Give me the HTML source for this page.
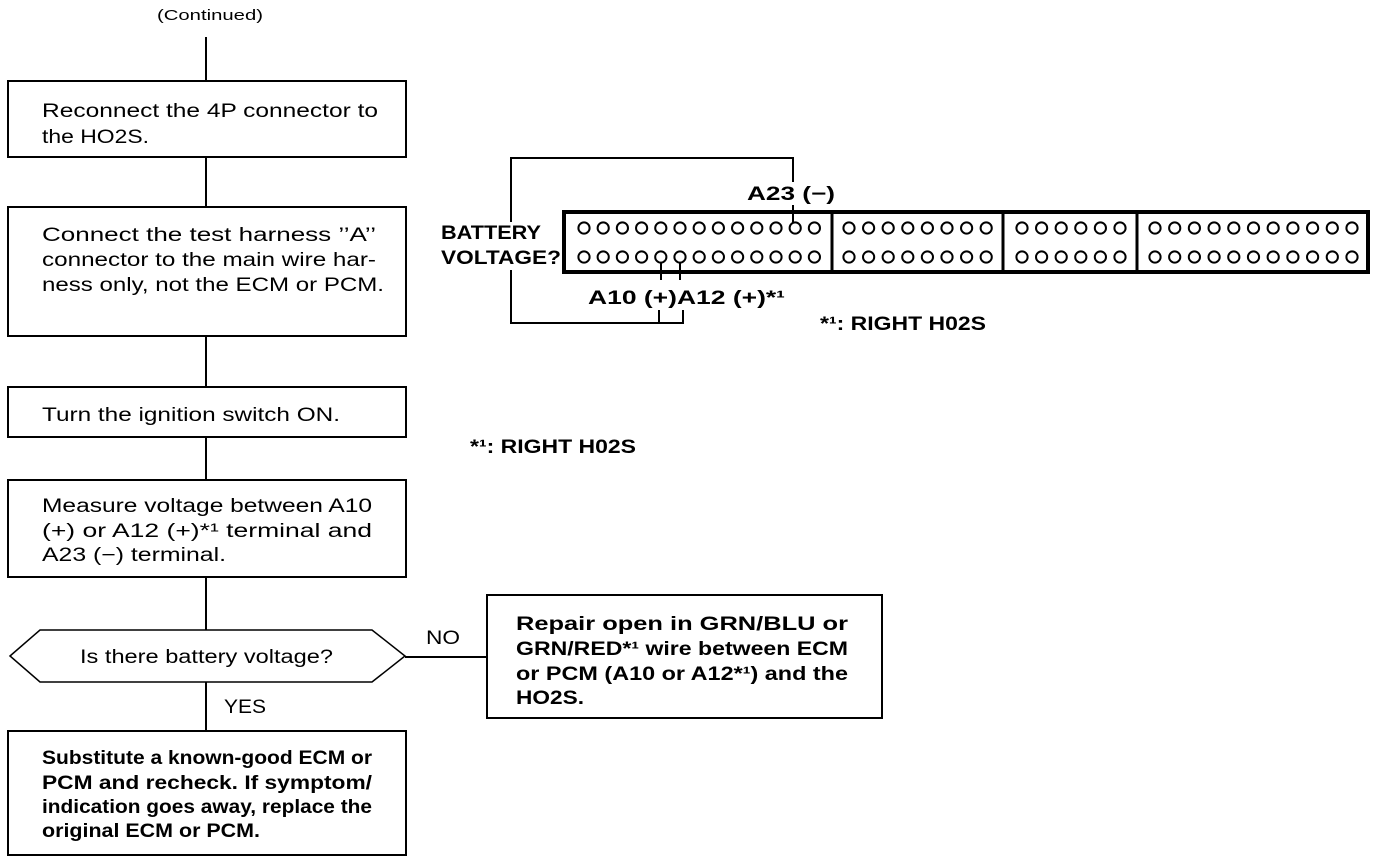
<!DOCTYPE html>
<html><head><meta charset="utf-8"><style>
html,body{margin:0;padding:0;background:#fff;}
svg{display:block;}
text{font-family:"Liberation Sans",Arial,sans-serif;fill:#000;}
.t{font-size:19px;}
.b{font-size:19px;font-weight:bold;}
.c{fill:#fff;stroke:#000;stroke-width:2;}
</style></head><body>
<svg width="1376" height="862" viewBox="0 0 1376 862" xmlns="http://www.w3.org/2000/svg">
<g stroke="#000" stroke-width="2" fill="none">
<line x1="206" y1="37" x2="206" y2="731"/>
<rect x="8" y="81" width="398" height="76" fill="#fff"/>
<rect x="8" y="207" width="398" height="129" fill="#fff"/>
<rect x="8" y="387" width="398" height="50" fill="#fff"/>
<rect x="8" y="480" width="398" height="97" fill="#fff"/>
<polygon points="10,656 40,630 372,630 405,656 372,682 40,682" fill="#fff" stroke-width="1.5"/>
<rect x="8" y="731" width="398" height="124" fill="#fff"/>
<line x1="405" y1="657" x2="487" y2="657"/>
<rect x="487" y="595" width="395" height="123" fill="#fff"/>
<rect x="564" y="212" width="804" height="60" stroke-width="4"/>
<line x1="832" y1="212" x2="832" y2="272" stroke-width="3"/>
<line x1="1003" y1="212" x2="1003" y2="272" stroke-width="3"/>
<line x1="1137" y1="212" x2="1137" y2="272" stroke-width="3"/>
<polyline points="511,222 511,158 793,158 793,182"/>
<line x1="793" y1="205" x2="793" y2="223"/>
<polyline points="511,270 511,323 683,323 683,310"/>
<line x1="659" y1="310" x2="659" y2="323"/>
<line x1="661" y1="262" x2="661" y2="280"/>
<line x1="680" y1="262" x2="680" y2="280"/>
</g>
<g class="c">
<circle cx="584" cy="228" r="5.6"/><circle cx="603.2" cy="228" r="5.6"/><circle cx="622.4" cy="228" r="5.6"/><circle cx="641.6" cy="228" r="5.6"/><circle cx="660.8" cy="228" r="5.6"/><circle cx="680" cy="228" r="5.6"/><circle cx="699.2" cy="228" r="5.6"/><circle cx="718.4" cy="228" r="5.6"/><circle cx="737.6" cy="228" r="5.6"/><circle cx="756.8" cy="228" r="5.6"/><circle cx="776" cy="228" r="5.6"/><circle cx="795.2" cy="228" r="5.6"/><circle cx="814.4" cy="228" r="5.6"/>
<circle cx="584" cy="257" r="5.6"/><circle cx="603.2" cy="257" r="5.6"/><circle cx="622.4" cy="257" r="5.6"/><circle cx="641.6" cy="257" r="5.6"/><circle cx="660.8" cy="257" r="5.6"/><circle cx="680" cy="257" r="5.6"/><circle cx="699.2" cy="257" r="5.6"/><circle cx="718.4" cy="257" r="5.6"/><circle cx="737.6" cy="257" r="5.6"/><circle cx="756.8" cy="257" r="5.6"/><circle cx="776" cy="257" r="5.6"/><circle cx="795.2" cy="257" r="5.6"/><circle cx="814.4" cy="257" r="5.6"/>
<circle cx="849" cy="228" r="5.6"/><circle cx="868.6" cy="228" r="5.6"/><circle cx="888.2" cy="228" r="5.6"/><circle cx="907.8" cy="228" r="5.6"/><circle cx="927.4" cy="228" r="5.6"/><circle cx="947" cy="228" r="5.6"/><circle cx="966.6" cy="228" r="5.6"/><circle cx="986.2" cy="228" r="5.6"/>
<circle cx="849" cy="257" r="5.6"/><circle cx="868.6" cy="257" r="5.6"/><circle cx="888.2" cy="257" r="5.6"/><circle cx="907.8" cy="257" r="5.6"/><circle cx="927.4" cy="257" r="5.6"/><circle cx="947" cy="257" r="5.6"/><circle cx="966.6" cy="257" r="5.6"/><circle cx="986.2" cy="257" r="5.6"/>
<circle cx="1022" cy="228" r="5.6"/><circle cx="1041.6" cy="228" r="5.6"/><circle cx="1061.2" cy="228" r="5.6"/><circle cx="1080.8" cy="228" r="5.6"/><circle cx="1100.4" cy="228" r="5.6"/><circle cx="1120" cy="228" r="5.6"/>
<circle cx="1022" cy="257" r="5.6"/><circle cx="1041.6" cy="257" r="5.6"/><circle cx="1061.2" cy="257" r="5.6"/><circle cx="1080.8" cy="257" r="5.6"/><circle cx="1100.4" cy="257" r="5.6"/><circle cx="1120" cy="257" r="5.6"/>
<circle cx="1155" cy="228" r="5.6"/><circle cx="1174.7" cy="228" r="5.6"/><circle cx="1194.4" cy="228" r="5.6"/><circle cx="1214.1" cy="228" r="5.6"/><circle cx="1233.8" cy="228" r="5.6"/><circle cx="1253.5" cy="228" r="5.6"/><circle cx="1273.2" cy="228" r="5.6"/><circle cx="1292.9" cy="228" r="5.6"/><circle cx="1312.6" cy="228" r="5.6"/><circle cx="1332.3" cy="228" r="5.6"/><circle cx="1352" cy="228" r="5.6"/>
<circle cx="1155" cy="257" r="5.6"/><circle cx="1174.7" cy="257" r="5.6"/><circle cx="1194.4" cy="257" r="5.6"/><circle cx="1214.1" cy="257" r="5.6"/><circle cx="1233.8" cy="257" r="5.6"/><circle cx="1253.5" cy="257" r="5.6"/><circle cx="1273.2" cy="257" r="5.6"/><circle cx="1292.9" cy="257" r="5.6"/><circle cx="1312.6" cy="257" r="5.6"/><circle cx="1332.3" cy="257" r="5.6"/><circle cx="1352" cy="257" r="5.6"/>
</g>

<text x="157" y="20" font-size="15" textLength="106" lengthAdjust="spacingAndGlyphs">(Continued)</text>

<text class="t" x="42" y="117" textLength="336" lengthAdjust="spacingAndGlyphs">Reconnect the 4P connector to</text>
<text class="t" x="42" y="143" textLength="107" lengthAdjust="spacingAndGlyphs">the HO2S.</text>

<text class="t" x="42" y="241" textLength="334" lengthAdjust="spacingAndGlyphs">Connect the test harness ’’A’’</text>
<text class="t" x="42" y="266" textLength="334" lengthAdjust="spacingAndGlyphs">connector to the main wire har-</text>
<text class="t" x="42" y="291" textLength="342" lengthAdjust="spacingAndGlyphs">ness only, not the ECM or PCM.</text>

<text class="t" x="42" y="421" textLength="298" lengthAdjust="spacingAndGlyphs">Turn the ignition switch ON.</text>

<text class="t" x="42" y="512" textLength="330" lengthAdjust="spacingAndGlyphs">Measure voltage between A10</text>
<text class="t" x="42" y="537" textLength="330" lengthAdjust="spacingAndGlyphs">(+) or A12 (+)*¹ terminal and</text>
<text class="t" x="42" y="561" textLength="184" lengthAdjust="spacingAndGlyphs">A23 (−) terminal.</text>

<text class="t" x="80" y="663" textLength="253" lengthAdjust="spacingAndGlyphs">Is there battery voltage?</text>
<text class="t" x="224" y="713" textLength="42" lengthAdjust="spacingAndGlyphs">YES</text>
<text class="t" x="426" y="644" textLength="34" lengthAdjust="spacingAndGlyphs">NO</text>

<text class="b" x="42" y="764" textLength="330" lengthAdjust="spacingAndGlyphs">Substitute a known-good ECM or</text>
<text class="b" x="42" y="789" textLength="330" lengthAdjust="spacingAndGlyphs">PCM and recheck. If symptom/</text>
<text class="b" x="42" y="813" textLength="330" lengthAdjust="spacingAndGlyphs">indication goes away, replace the</text>
<text class="b" x="42" y="837" textLength="218" lengthAdjust="spacingAndGlyphs">original ECM or PCM.</text>

<text class="b" x="516" y="630" textLength="332" lengthAdjust="spacingAndGlyphs">Repair open in GRN/BLU or</text>
<text class="b" x="516" y="655" textLength="332" lengthAdjust="spacingAndGlyphs">GRN/RED*¹ wire between ECM</text>
<text class="b" x="516" y="680" textLength="332" lengthAdjust="spacingAndGlyphs">or PCM (A10 or A12*¹) and the</text>
<text class="b" x="516" y="704" textLength="68" lengthAdjust="spacingAndGlyphs">HO2S.</text>

<text class="b" x="441" y="239" font-size="18" textLength="100" lengthAdjust="spacingAndGlyphs">BATTERY</text>
<text class="b" x="441" y="264" font-size="18" textLength="120" lengthAdjust="spacingAndGlyphs">VOLTAGE?</text>
<text class="b" x="747" y="200" font-size="18" textLength="88" lengthAdjust="spacingAndGlyphs">A23 (−)</text>
<text class="b" x="588" y="304" font-size="18" textLength="197" lengthAdjust="spacingAndGlyphs">A10 (+)A12 (+)*¹</text>
<text class="b" x="820" y="330" font-size="17" textLength="166" lengthAdjust="spacingAndGlyphs">*¹: RIGHT H02S</text>
<text class="b" x="470" y="453" font-size="17" textLength="166" lengthAdjust="spacingAndGlyphs">*¹: RIGHT H02S</text>
</svg>
</body></html>
